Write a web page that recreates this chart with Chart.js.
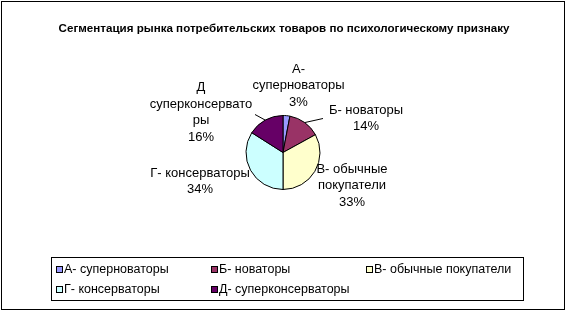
<!DOCTYPE html>
<html>
<head>
<meta charset="utf-8">
<script src="https://cdn.jsdelivr.net/npm/chart.js@4/dist/chart.umd.min.js"></script>
<style>
  html, body { margin: 0; padding: 0; background: #fff; }
  canvas { display: block; }
</style>
</head>
<body>
<canvas id="pie" width="567" height="312"></canvas>
<script>
// data
const chartTitle = 'Сегментация рынка потребительских товаров по психологическому признаку';
const segments = ['А- суперноваторы', 'Б- новаторы', 'В- обычные покупатели', 'Г- консерваторы', 'Д- суперконсерваторы'];
const segmentLines = [
    ['А-', 'суперноваторы'],
    ['Б- новаторы'],
    ['В- обычные', 'покупатели'],
    ['Г- консерваторы'],
    ['Д', 'суперконсервато', 'ры']
];
const shares = [3, 14, 33, 34, 16];
const sliceColors = ['#9999FF', '#993366', '#FFFFCC', '#CCFFFF', '#660066'];

// label placement relative to pie centre (layout only)
const labelSpots = [
    { dx: 15.5, dy: -67, leader: false },
    { dx: 83, dy: -34, leader: true, lx: 40 },
    { dx: 69, dy: 33, leader: false },
    { dx: -83, dy: 29, leader: false },
    { dx: -82, dy: -40, leader: true, lx: -28, ly: -38 }
];

const font = '"Liberation Sans", Arial, sans-serif';

const decorPlugin = {
    id: 'decor',
    afterDraw(chart) {
        const ctx = chart.ctx;
        const meta = chart.getDatasetMeta(0);
        ctx.save();

        // outer frame
        ctx.strokeStyle = '#000';
        ctx.lineWidth = 1;
        ctx.strokeRect(1.5, 1.5, 563, 308);

        // title
        ctx.fillStyle = '#000';
        ctx.font = 'bold 11.6px ' + font;
        ctx.textAlign = 'center';
        ctx.textBaseline = 'middle';
        ctx.fillText(chartTitle, 284, 29);

        // slice labels
        ctx.font = '13px ' + font;
        const lh = 16.5;
        meta.data.forEach((arc, i) => {
            const spot = labelSpots[i];
            const lines = segmentLines[i].concat([shares[i] + '%']);
            const cx = arc.x + spot.dx;
            const cy = arc.y + spot.dy;
            const top = cy - (lines.length - 1) * lh / 2;
            lines.forEach((t, k) => ctx.fillText(t, cx, top + k * lh));
            if (spot.leader) {
                const mid = (arc.startAngle + arc.endAngle) / 2;
                const ex = arc.x + Math.cos(mid) * arc.outerRadius;
                const ey = arc.y + Math.sin(mid) * arc.outerRadius;
                const sx = arc.x + spot.lx;
                const sy = arc.y + (spot.ly !== undefined ? spot.ly : spot.dy);
                ctx.beginPath();
                ctx.moveTo(sx, sy);
                ctx.lineTo(ex, ey);
                ctx.stroke();
            }
        });

        // legend box
        ctx.strokeRect(51.5, 257.5, 472, 43);
        ctx.textAlign = 'left';
        ctx.font = '12.5px ' + font;
        segments.forEach((name, i) => {
            const col = i % 3;
            const row = Math.floor(i / 3);
            const x = 56 + col * 155;
            const y = 270 + row * 20;
            ctx.fillStyle = sliceColors[i];
            ctx.fillRect(x, y - 4, 7, 7);
            ctx.strokeStyle = '#000';
            ctx.strokeRect(x + 0.5, y - 3.5, 6, 6);
            ctx.fillStyle = '#000';
            ctx.fillText(name, x + 8, y);
        });
        ctx.restore();
    }
};

new Chart(document.getElementById('pie'), {
    type: 'pie',
    data: {
        labels: segments,
        datasets: [{
            data: shares,
            backgroundColor: sliceColors,
            borderColor: '#000',
            borderWidth: 1
        }]
    },
    options: {
        responsive: false,
        animation: false,
        layout: { padding: { top: 115, bottom: 122, left: 0, right: 1 } },
        plugins: {
            legend: { display: false },
            tooltip: { enabled: false },
            title: { display: false }
        }
    },
    plugins: [decorPlugin]
});
</script>
</body>
</html>
